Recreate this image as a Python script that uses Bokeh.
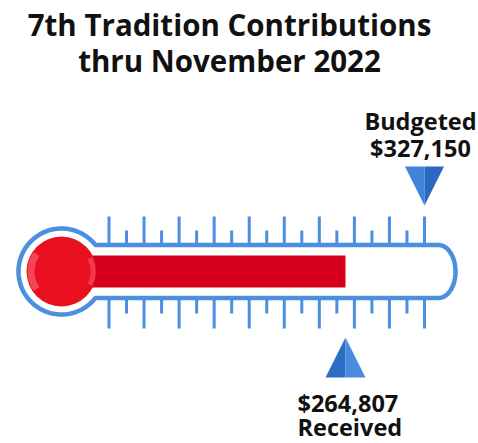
import numpy as np
from bokeh.plotting import figure
from bokeh.models import Range1d
from bokeh.embed import file_html
from bokeh.resources import INLINE
from bokeh.core.properties import value

# ---- data ----
title_lines = ["7th Tradition Contributions", "thru November 2022"]
budget_label = "Budgeted"
received_label = "Received"
budgeted = [327150]
received = [264807]

# ---- layout ----
W, H = 478, 443
X0, X1 = -7443, 369763          # dollar scale across the figure
DPP = (X1 - X0) / W             # dollars per pixel
BLUE = "#4a8fe0"
FONT = value("Open Sans")
INK = "#111111"
TY = -10                        # text baseline correction

p = figure(width=W, height=H, x_range=Range1d(X0, X1), y_range=Range1d(H, 0),
           output_backend="svg", toolbar_location=None, min_border=0,
           x_axis_location=None, y_axis_location=None)
p.extra_x_ranges = {"px": Range1d(0, W)}
p.grid.visible = False
p.outline_line_color = None

# thermometer geometry (pixels)
cx, cy, ring_r = 61, 271, 43
half_h = 26.5
end_x, end_rx = 438, 17
top_y, bot_y = cy - half_h, cy + half_h

# scale ticks
majors = np.linspace(108.5, 424, 10)
minors = (majors[:-1] + majors[1:]) / 2
xs, ys = [], []
for x in majors:
    xs += [[x, x], [x, x]]
    ys += [[216, top_y], [bot_y, 328]]
for x in minors:
    xs += [[x, x], [x, x]]
    ys += [[230, top_y], [bot_y, 313]]
p.multi_line(xs, ys, line_color=BLUE, line_width=3, x_range_name="px")

# outline
t0 = np.arcsin(half_h / ring_r)
t = np.linspace(-t0, -2 * np.pi + t0, 120)
ox = list(cx + ring_r * np.cos(t))
oy = list(cy + ring_r * np.sin(t))
te = np.linspace(np.pi / 2, -np.pi / 2, 60)
ox += list(end_x + end_rx * np.cos(te))
oy += list(cy + half_h * np.sin(te))
p.patch(ox, oy, fill_color="white", line_color=BLUE, line_width=4.5, x_range_name="px")

# red bar (received)
bar_left = X0 + cx * DPP
p.quad(left=[bar_left], right=received, top=[cy - 16], bottom=[cy + 16],
       fill_color="#d6001c", line_color=None)

# bulb
p.circle([cx], [cy], radius=35, fill_color="#e8101f", line_color=None, x_range_name="px")
p.annular_wedge([cx], [cy], inner_radius=27, outer_radius=34, start_angle=np.radians(145),
                end_angle=np.radians(215), fill_color="#ff8a95", fill_alpha=0.45,
                line_color=None, x_range_name="px")
p.annular_wedge([cx], [cy], inner_radius=29, outer_radius=34, start_angle=np.radians(-25),
                end_angle=np.radians(25), fill_color="#ff8a95", fill_alpha=0.35,
                line_color=None, x_range_name="px")

# budget marker (down triangle)
b = budgeted[0]
hw = 19.5 * DPP
p.patch([b - hw, b, b], [166, 166, 205], fill_color="#3f84da", line_color=None)
p.patch([b, b + hw, b], [166, 166, 205], fill_color="#2b68c2", line_color=None)

# received marker (up triangle)
r = received[0]
hw2 = 20 * DPP
p.patch([r - hw2, r, r], [377, 377, 337], fill_color="#2d6cc6", line_color=None)
p.patch([r, r + hw2, r], [377, 377, 337], fill_color="#4a8de0", line_color=None)

# title
p.text(x=[229, 229], y=[34 + TY, 70 + TY], text=title_lines, text_font=FONT,
       text_font_style="bold", text_font_size="29.5px", text_align="center",
       text_baseline="alphabetic", text_color=INK, x_range_name="px")

# labels
p.text(x=[b, b], y=[130 + TY, 157 + TY], text=[budget_label, f"${b:,}"], x_offset=-4,
       text_font=FONT, text_font_style="bold", text_font_size="23.5px",
       text_align="center", text_baseline="alphabetic", text_color=INK)
p.text(x=[r, r], y=[412 + TY, 436 + TY], text=[f"${r:,}", received_label], x_offset=-48,
       text_font=FONT, text_font_style="bold", text_font_size="23.5px",
       text_align="left", text_baseline="alphabetic", text_color=INK)

open("out.html", "w").write(file_html(p, INLINE))
